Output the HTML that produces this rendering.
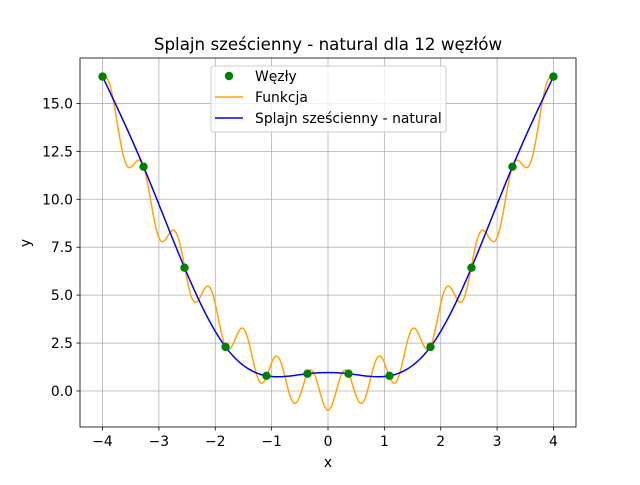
<!DOCTYPE html>
<html><head><meta charset="utf-8"><style>
body{margin:0;background:#fff}
svg{font-family:"DejaVu Sans","Liberation Sans",sans-serif}
</style></head><body>
<svg id="c" width="640" height="480" xmlns="http://www.w3.org/2000/svg"></svg>
<script>
const nodeX=[-4,-3.2727,-2.5455,-1.8182,-1.0909,-0.3636,0.3636,1.0909,1.8182,2.5455,3.2727,4];
const nodeY=[16.40,11.70,6.43,2.30,0.79,0.90,0.90,0.79,2.30,6.43,11.70,16.40];
const xTicks=[-4,-3,-2,-1,0,1,2,3,4];
const yTicks=[0,2.5,5,7.5,10,12.5,15];
const yTickLabels=["0.0","2.5","5.0","7.5","10.0","12.5","15.0"];
const funcFreq=10.5;
const NS="http://www.w3.org/2000/svg";
const svg=document.getElementById('c');
const L=80,R=576,T=58,B=427,xmin=-4.4,xmax=4.4,ymin=-1.88,ymax=17.37;
const sx=x=>L+(x-xmin)/(xmax-xmin)*(R-L);
const sy=y=>B-(y-ymin)/(ymax-ymin)*(B-T);
function el(t,a,p){const e=document.createElementNS(NS,t);for(const k in a)e.setAttribute(k,a[k]);(p||svg).appendChild(e);return e;}
xTicks.forEach(v=>{const x=sx(v);
 const g=el('line',{x1:x,x2:x,y1:T,y2:B,stroke:'#b0b0b0','stroke-width':0.8});
 
 el('line',{x1:x,x2:x,y1:B,y2:B+3.5,stroke:'#000','stroke-width':0.8});
 const t=el('text',{x:x,y:B+19,'text-anchor':'middle','font-size':13.9});t.textContent=(v<0?'\u2212'+(-v):v);
 });
yTicks.forEach((v,i)=>{const y=sy(v);
 const g=el('line',{x1:L,x2:R,y1:y,y2:y,stroke:'#b0b0b0','stroke-width':0.8});
 
 el('line',{x1:L-3.5,x2:L,y1:y,y2:y,stroke:'#000','stroke-width':0.8});
 const t=el('text',{x:L-7,y:y+5,'text-anchor':'end','font-size':13.9});t.textContent=yTickLabels[i];
 });
const cp=el('clipPath',{id:'clip'});el('rect',{x:L,y:T,width:R-L,height:B-T},cp);
let d='';for(let i=0;i<=1600;i++){const x=-4+8*i/1600;const y=x*x-Math.cos(funcFreq*x);d+=(i?'L':'M')+sx(x).toFixed(2)+','+sy(y).toFixed(2);}
const fl=el('path',{d:d,fill:'none',stroke:'orange','stroke-width':1.5,'clip-path':'url(#clip)'});

const n=nodeX.length,h=[],M=new Array(n).fill(0);
for(let i=0;i<n-1;i++)h.push(nodeX[i+1]-nodeX[i]);
const a=[],b=[],c=[],r=[];
for(let i=1;i<n-1;i++){a.push(h[i-1]);b.push(2*(h[i-1]+h[i]));c.push(h[i]);r.push(6*((nodeY[i+1]-nodeY[i])/h[i]-(nodeY[i]-nodeY[i-1])/h[i-1]));}
const m=b.length;for(let i=1;i<m;i++){const w=a[i]/b[i-1];b[i]-=w*c[i-1];r[i]-=w*r[i-1];}
const sol=new Array(m);sol[m-1]=r[m-1]/b[m-1];for(let i=m-2;i>=0;i--)sol[i]=(r[i]-c[i]*sol[i+1])/b[i];
for(let i=0;i<m;i++)M[i+1]=sol[i];
let d2='';let first=true;
for(let k=0;k<n-1;k++){for(let j=0;j<=40;j++){const x=nodeX[k]+h[k]*j/40;const A=(nodeX[k+1]-x)/h[k],Bq=(x-nodeX[k])/h[k];
 const y=A*nodeY[k]+Bq*nodeY[k+1]+((A*A*A-A)*M[k]+(Bq*Bq*Bq-Bq)*M[k+1])*h[k]*h[k]/6;
 d2+=(first?'M':'L')+sx(x).toFixed(2)+','+sy(y).toFixed(2);first=false;}}
const sl=el('path',{d:d2,fill:'none',stroke:'blue','stroke-width':1.5});

nodeX.forEach((x,i)=>{const p=el('circle',{cx:sx(x),cy:sy(nodeY[i]),r:4.2,fill:'green'});
 });
el('rect',{x:L,y:T,width:R-L,height:B-T,fill:'none',stroke:'#000','stroke-width':0.8});
</script>
<svg style="position:absolute;left:0;top:0" width="640" height="480" xmlns="http://www.w3.org/2000/svg">
<text x="328" y="50" text-anchor="middle" font-size="16.7" font-family="DejaVu Sans,Liberation Sans,sans-serif">Splajn sześcienny - natural dla 12 węzłów</text>
<text x="328" y="467" text-anchor="middle" font-size="13.9" font-family="DejaVu Sans,Liberation Sans,sans-serif">x</text>
<text x="30" y="243" text-anchor="middle" font-size="13.9" font-family="DejaVu Sans,Liberation Sans,sans-serif" transform="rotate(-90 30 243)">y</text>
<g font-family="DejaVu Sans,Liberation Sans,sans-serif" font-size="13.9">
<rect x="211" y="66" width="235" height="66" rx="2" fill="#fff" fill-opacity="0.8" stroke="#ccc"/>
<circle cx="229" cy="76" r="4.2" fill="green"/>
<text x="255" y="81">Węzły</text>
<line x1="215" x2="243" y1="97" y2="97" stroke="orange" stroke-width="1.5"/>
<text x="255" y="102">Funkcja</text>
<line x1="215" x2="243" y1="118" y2="118" stroke="blue" stroke-width="1.5"/>
<text x="255" y="123">Splajn sześcienny - natural</text>
</g>
</svg>
</body></html>
